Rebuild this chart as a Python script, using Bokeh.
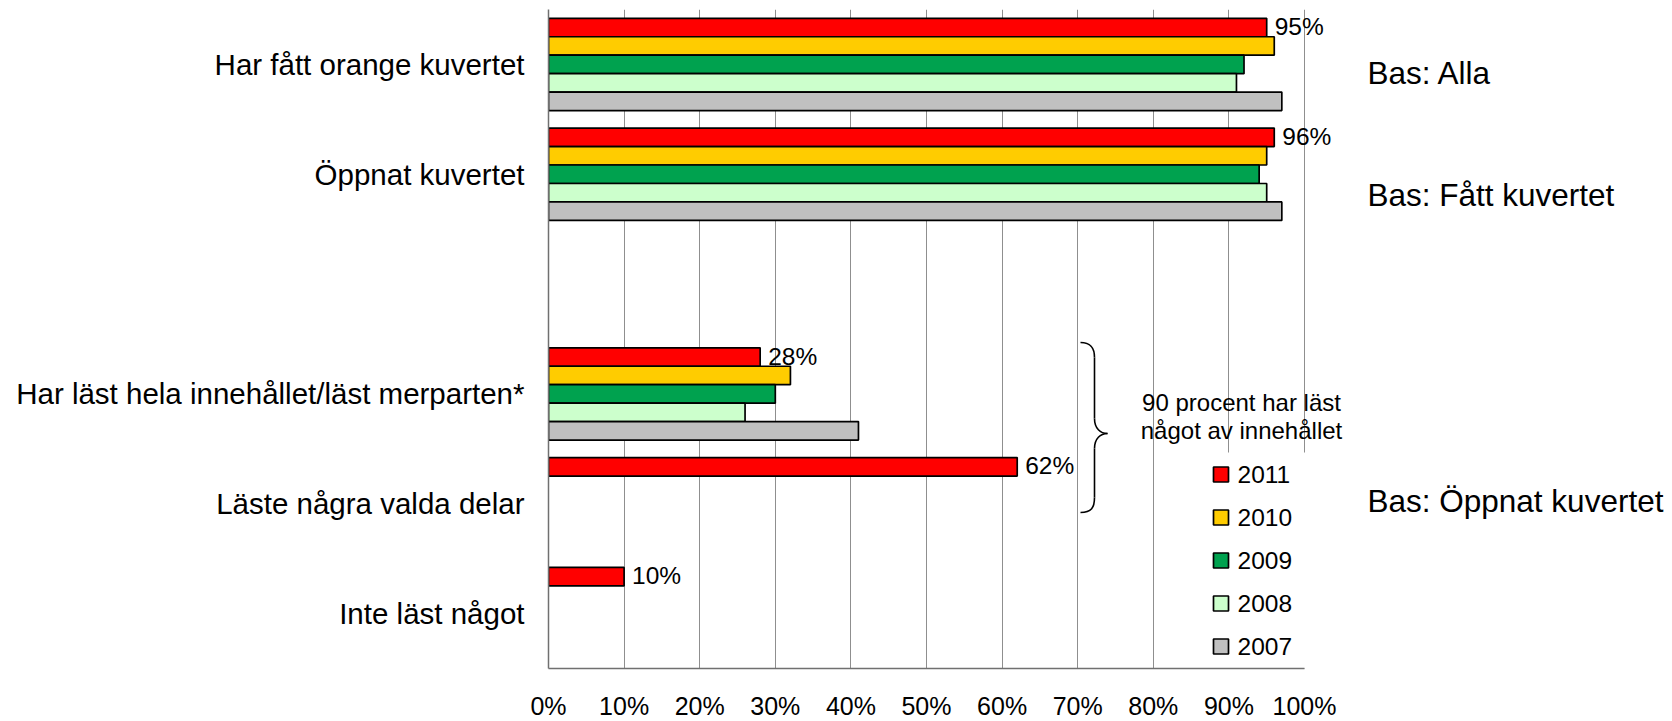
from bokeh.plotting import figure
from bokeh.models import Range1d, FixedTicker, LabelSet, Label, ColumnDataSource
from bokeh.core.properties import value
from bokeh.embed import file_html
from bokeh.resources import INLINE

# ---------------- data ----------------
categories = ["Har fått orange kuvertet", "Öppnat kuvertet", "",
              "Har läst hela innehållet/läst merparten*",
              "Läste några valda delar", "Inte läst något"]
years = ["2011", "2010", "2009", "2008", "2007"]
v2011 = [95, 96, None, 28, 62, 10]
v2010 = [96, 95, None, 32, None, None]
v2009 = [92, 94, None, 30, None, None]
v2008 = [91, 95, None, 26, None, None]
v2007 = [97, 97, None, 41, None, None]
series = [v2011, v2010, v2009, v2008, v2007]
colors = ["#FF0000", "#FFCC00", "#00A24F", "#CCFFCC", "#C0C0C0"]
tick_values = [0, 10, 20, 30, 40, 50, 60, 70, 80, 90, 100]
tick_labels = ["0%", "10%", "20%", "30%", "40%", "50%", "60%", "70%", "80%", "90%", "100%"]
bases = ["Bas: Alla", "Bas: Fått kuvertet", "Bas: Öppnat kuvertet"]
note_lines = ["90 procent har läst", "något av innehållet"]

FONT = "Liberation Sans"
N = len(categories)
H = 0.168  # bar height in band units

# frame geometry (pixels, for placing decorations)
FX0 = 548          # left edge of frame (0 %)
XS = 7.56          # pixels per percent
FW = 1672 - FX0    # frame extends to the right edge (room for notes)
FYT, FH = 9, 659
FY1 = FYT + FH
YS = FH / N
XMAX = FW / XS


def px2x(px):
    return (px - FX0) / XS


def px2y(py):
    return (FY1 - py) / YS


p = figure(frame_width=FW, frame_height=FH,
           x_range=Range1d(0, XMAX), y_range=Range1d(0, N),
           output_backend="svg", toolbar_location=None,
           min_border_left=FX0, min_border_right=0,
           min_border_top=FYT, min_border_bottom=721 - FY1)
p.outline_line_color = None
p.background_fill_color = "white"
p.border_fill_color = "white"

# x axis
p.xaxis.ticker = FixedTicker(ticks=tick_values)
p.xaxis.bounds = (0, 100)
p.xaxis.major_label_overrides = {t: l for t, l in zip(tick_values, tick_labels)}
p.xaxis.major_tick_out = 0
p.xaxis.major_tick_in = 0
p.xaxis.minor_tick_out = 0
p.xaxis.minor_tick_in = 0
p.xaxis.axis_line_color = "#707070"
p.xaxis.axis_line_width = 1.5
p.xaxis.major_label_text_font = FONT
p.xaxis.major_label_text_font_size = "25px"
p.xaxis.major_label_text_color = "black"
p.xaxis.major_label_standoff = 23

# y axis with category labels
centers = [N - 0.5 - i for i in range(N)]
p.yaxis.ticker = FixedTicker(ticks=centers)
p.yaxis.major_label_overrides = {c: cat for c, cat in zip(centers, categories)}
p.yaxis.major_tick_out = 0
p.yaxis.major_tick_in = 0
p.yaxis.minor_tick_out = 0
p.yaxis.minor_tick_in = 0
p.yaxis.axis_line_color = "#707070"
p.yaxis.axis_line_width = 1.5
p.yaxis.major_label_text_font = FONT
p.yaxis.major_label_text_font_size = "29.5px"
p.yaxis.major_label_text_color = "black"
p.yaxis.major_label_standoff = 24

p.xgrid.ticker = FixedTicker(ticks=tick_values)
p.xgrid.grid_line_color = "#8f8f8f"
p.xgrid.grid_line_width = 1
p.ygrid.visible = False

# bars
for j, (yr, vals, col) in enumerate(zip(years, series, colors)):
    off = (2 - j) * H
    ys, rs = [], []
    for i, v in enumerate(vals):
        if v is not None:
            ys.append(centers[i] + off)
            rs.append(v)
    src = ColumnDataSource(dict(y=ys, right=rs))
    p.hbar(y="y", left=0, right="right", height=H, source=src,
           fill_color=col, line_color="black", line_width=1.7)

# value labels on 2011 bars
lx, ly, lt = [], [], []
for i, v in enumerate(v2011):
    if v is not None:
        lx.append(v)
        ly.append(centers[i] + 2 * H)
        lt.append(f"{v}%")
lab_src = ColumnDataSource(dict(x=lx, y=ly, t=lt))
p.add_layout(LabelSet(x="x", y="y", text="t", source=lab_src, x_offset=8, y_offset=1,
                      text_font=value(FONT), text_font_size=value("24.5px"),
                      text_baseline="middle", text_color="black"))

# legend (white box covering the grid)
p.quad(left=px2x(1170), right=px2x(1312), bottom=0.004, top=px2y(452),
       fill_color="white", line_color=None)
leg_y = [px2y(474 + 43 * k) for k in range(len(years))]
p.rect(x=[px2x(1220.5)] * len(years), y=leg_y, width=15, height=15,
       width_units="screen", height_units="screen",
       fill_color=colors, line_color="black", line_width=1.7)
p.text(x=[px2x(1237)] * len(years), y=leg_y, text=years,
       text_font=value(FONT), text_font_size="24.5px",
       text_baseline="middle", text_align="left", text_color="black")

# brace
bx0, bx1, bx2 = px2x(1080), px2x(1094), px2x(1107)
p.bezier(x0=[bx0, bx1, bx2, bx1], y0=[px2y(342), px2y(418), px2y(433), px2y(497)],
         x1=[bx1, bx2, bx1, bx0], y1=[px2y(357), px2y(433), px2y(448), px2y(512)],
         cx0=[px2x(1091), bx1, px2x(1100), bx1], cy0=[px2y(342), px2y(428), px2y(433), px2y(507)],
         cx1=[bx1, px2x(1100), bx1, px2x(1091)], cy1=[px2y(348), px2y(433), px2y(438), px2y(512)],
         line_color="black", line_width=1.6)
p.segment(x0=[bx1, bx1], y0=[px2y(357), px2y(448)], x1=[bx1, bx1], y1=[px2y(418), px2y(497)],
          line_color="black", line_width=1.6)

# note text
for k, t in enumerate(note_lines):
    p.add_layout(Label(x=px2x(1241), y=px2y(402 + 28 * k), text=t,
                       text_font=FONT, text_font_size="24px", text_align="center",
                       text_baseline="middle", text_color="black"))

# base labels at right
for t, py in zip(bases, [72, 194, 500]):
    p.add_layout(Label(x=px2x(1367), y=px2y(py), text=t,
                       text_font=FONT, text_font_size="31.5px", text_align="left",
                       text_baseline="middle", text_color="black"))

open("out.html", "w").write(file_html(p, INLINE))
